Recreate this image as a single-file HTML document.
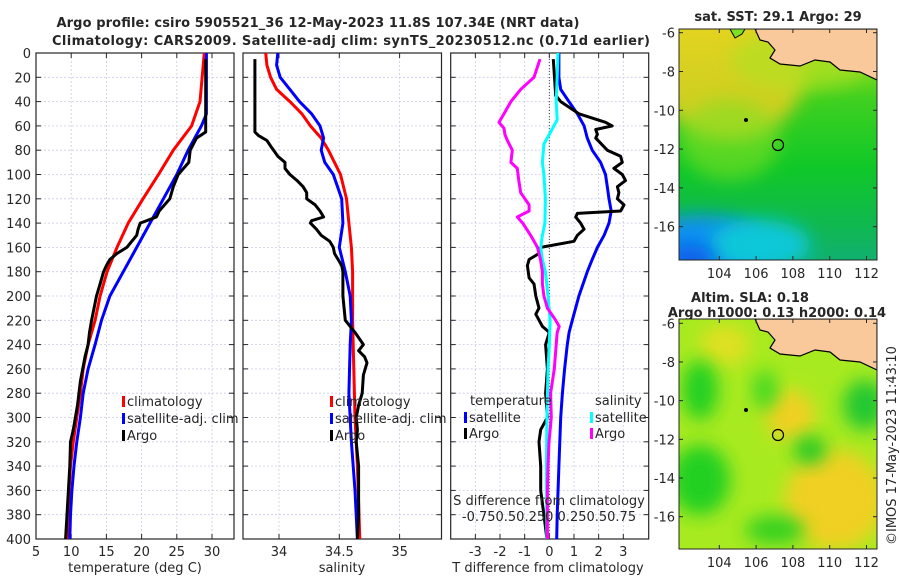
<!DOCTYPE html>
<html><head><meta charset="utf-8"><style>
body{margin:0;background:#fff;}
svg text{font-family:"DejaVu Sans","Liberation Sans",sans-serif;fill:#262626;}
</style></head><body>
<svg id="fig" width="900" height="580" xmlns="http://www.w3.org/2000/svg">
<defs>
<radialGradient id="sstY" cx="0.3" cy="0.15" r="0.6"><stop offset="0" stop-color="#f0d020"/><stop offset="0.5" stop-color="#b8e820"/><stop offset="1" stop-color="#6ee010" stop-opacity="0"/></radialGradient>
<linearGradient id="sstBg" x1="0" y1="0" x2="0" y2="1"><stop offset="0" stop-color="#c8e818"/><stop offset="0.3" stop-color="#40d020"/><stop offset="0.6" stop-color="#10c828"/><stop offset="0.85" stop-color="#10b850"/><stop offset="1" stop-color="#10b070"/></linearGradient>
<radialGradient id="sstB" cx="0.1" cy="1" r="0.5"><stop offset="0" stop-color="#1060f0"/><stop offset="0.5" stop-color="#10b0e0"/><stop offset="1" stop-color="#10c8c0" stop-opacity="0"/></radialGradient>
<filter id="bl" x="-50%" y="-50%" width="200%" height="200%"><feGaussianBlur stdDeviation="9"/></filter>
<clipPath id="c1"><rect x="679" y="29" width="198" height="231"/></clipPath>
<clipPath id="c2"><rect x="679" y="319" width="198" height="230"/></clipPath>
</defs>
<g id="titles">
<text x="318" y="27" text-anchor="middle" font-weight="bold" font-size="13" textLength="523">Argo profile: csiro 5905521_36 12-May-2023 11.8S 107.34E (NRT data)</text>
<text x="351" y="45" text-anchor="middle" font-weight="bold" font-size="13" textLength="598">Climatology: CARS2009. Satellite-adj clim: synTS_20230512.nc (0.71d earlier)</text>
</g>
<g id="p1"></g>
<g id="p2"></g>
<g id="p3"></g>

<g>
<text x="778" y="21" text-anchor="middle" font-weight="bold" font-size="13">sat. SST: 29.1 Argo: 29</text>
<g clip-path="url(#c1)">
<rect x="679" y="29" width="198" height="231" fill="url(#sstBg)"/>
<ellipse cx="730" cy="70" rx="75" ry="70" fill="#e8d020" filter="url(#bl)" opacity="0.85"/>
<ellipse cx="800" cy="60" rx="70" ry="30" fill="#b0e020" filter="url(#bl)" opacity="0.7"/>
<ellipse cx="730" cy="140" rx="50" ry="40" fill="#80e020" filter="url(#bl)" opacity="0.6"/>
<ellipse cx="700" cy="250" rx="70" ry="35" fill="#1090f0" filter="url(#bl)"/>
<ellipse cx="760" cy="245" rx="50" ry="25" fill="#10c8d8" filter="url(#bl)"/>
<ellipse cx="690" cy="258" rx="25" ry="12" fill="#0a5ce8" filter="url(#bl)"/>
<path d="M755 29 L760 40 L768 42 L775 50 L770 58 L780 64 L800 66 L815 60 L830 62 L840 70 L860 72 L877 80 L877 29 Z" fill="#f9c89b" stroke="#000" stroke-width="1.2"/>
<path d="M730 29 L735 38 L742 34 L745 29" fill="#7de020" stroke="#000" stroke-width="1"/>
<circle cx="778" cy="145" r="5.5" fill="none" stroke="#000" stroke-width="1.2"/>
<circle cx="746" cy="120" r="2" fill="#000"/>
</g>
<rect x="679" y="29" width="198" height="231" fill="none" stroke="#262626" stroke-width="1"/>
</g>

<g>
<text x="750" y="302" text-anchor="middle" font-weight="bold" font-size="13">Altim. SLA: 0.18</text>
<text x="777" y="317" text-anchor="middle" font-weight="bold" font-size="13">Argo h1000: 0.13 h2000: 0.14</text>
<g clip-path="url(#c2)">
<rect x="679" y="319" width="198" height="230" fill="#a8ea20"/>
<ellipse cx="835" cy="500" rx="50" ry="50" fill="#f0d020" filter="url(#bl)"/>
<ellipse cx="790" cy="415" rx="25" ry="25" fill="#f0d020" filter="url(#bl)"/>
<ellipse cx="725" cy="345" rx="25" ry="20" fill="#e0e020" filter="url(#bl)"/>
<ellipse cx="700" cy="390" rx="18" ry="30" fill="#20d020" filter="url(#bl)"/>
<ellipse cx="700" cy="480" rx="30" ry="35" fill="#20d020" filter="url(#bl)"/>
<ellipse cx="765" cy="390" rx="12" ry="20" fill="#40d820" filter="url(#bl)"/>
<ellipse cx="810" cy="450" rx="16" ry="14" fill="#20c828" filter="url(#bl)"/>
<ellipse cx="865" cy="405" rx="22" ry="25" fill="#20c830" filter="url(#bl)"/>
<ellipse cx="775" cy="530" rx="30" ry="14" fill="#30d020" filter="url(#bl)"/>
<path d="M755 319 L760 330 L768 332 L775 340 L770 348 L780 354 L800 356 L815 350 L830 352 L840 360 L860 362 L877 370 L877 319 Z" fill="#f9c89b" stroke="#000" stroke-width="1.2"/>
<circle cx="778" cy="435" r="5.5" fill="none" stroke="#000" stroke-width="1.2"/>
<circle cx="746" cy="410" r="2" fill="#000"/>
</g>
<rect x="679" y="319" width="198" height="230" fill="none" stroke="#262626" stroke-width="1"/>
</g>
<text transform="translate(896,545) rotate(-90)" font-size="13">©IMOS 17-May-2023 11:43:10</text>
<g id="maxes"></g>
</svg>
<script>
// ---- data ----
const depthRedT=[0,40,60,80,100,120,140,160,180,200,220,240,260,280,300,320,340,360,380,400];
const tempClim=[28.9,28.3,27.1,24.5,22.4,20.2,18.1,16.5,15.1,14.1,13.4,12.4,11.7,11.3,10.8,10.3,9.9,9.7,9.6,9.5];
const depthBlueT=[0,50,60,80,100,120,140,160,180,200,220,240,260,280,300,320,340,360,380,400];
const tempSat=[29.2,29.2,28.5,26.6,25.0,23.1,21.2,19.3,17.4,15.5,14.3,13.4,12.4,11.7,11.3,10.8,10.4,10.1,9.9,9.8];
const depthArgoT=[5,65,70,80,90,100,110,120,130,135,140,145,150,160,165,170,175,180,190,200,220,230,240,250,270,290,310,320,340,360,380,400];
const tempArgo=[29.1,29.1,27.8,26.9,26.7,25.2,24.5,24.0,22.5,22.1,19.8,19.5,19.3,17.9,16.5,15.5,15.0,14.6,14.1,13.6,12.9,12.6,12.4,11.96,11.3,10.9,10.3,9.9,9.8,9.6,9.4,9.2];

const depthRedS=[0,10,20,30,40,50,60,70,80,90,100,120,140,160,180,200,220,260,300,340,400];
const salClim=[33.89,33.90,33.93,33.98,34.09,34.19,34.26,34.35,34.41,34.46,34.51,34.56,34.58,34.60,34.61,34.61,34.61,34.62,34.63,34.65,34.67];
const depthBlueS=[0,10,20,30,40,50,60,70,80,90,100,120,140,160,180,200,220,240,280,320,360,400];
const salSat=[33.99,33.98,34.01,34.09,34.17,34.27,34.34,34.37,34.35,34.38,34.45,34.52,34.53,34.50,34.55,34.59,34.60,34.59,34.58,34.60,34.63,34.65];
const depthArgoS=[5,65,68,72,78,85,90,95,100,105,110,115,120,125,130,135,138,140,145,150,155,160,165,170,175,180,200,220,225,230,240,245,250,255,265,280,290,300,310,320,340,360,380,400];
const salArgo=[33.80,33.80,33.83,33.90,33.94,33.99,34.05,34.05,34.09,34.15,34.20,34.23,34.23,34.30,34.34,34.37,34.27,34.26,34.31,34.35,34.42,34.45,34.46,34.49,34.52,34.53,34.53,34.55,34.59,34.63,34.70,34.66,34.71,34.73,34.70,34.69,34.66,34.64,34.65,34.64,34.66,34.66,34.66,34.65];

const depthDTs=[0,20,30,38,50,60,70,80,90,100,110,120,130,140,150,160,170,180,200,220,230,240,260,280,300,340,380,400];
const dTsat=[0.39,0.39,0.46,0.73,1.14,1.41,1.54,1.74,2.08,2.28,2.35,2.42,2.51,2.42,2.22,1.95,1.74,1.54,1.20,0.93,0.80,0.73,0.62,0.53,0.46,0.39,0.32,0.30];
const depthDTa=[5,35,40,50,57,60,63,67,70,80,85,90,95,100,105,110,115,120,125,130,132,135,140,145,150,155,160,165,170,175,185,190,200,210,215,225,230,240,260,280,300,310,320,340,360,380,400];
const dTargo=[0.16,0.26,0.46,1.2,2.28,2.55,1.88,1.95,1.88,2.35,2.89,2.96,2.62,2.96,3.09,2.76,2.82,2.76,3.03,2.89,1.14,1.07,1.27,1.41,1.14,1.0,-0.35,-0.42,-0.82,-0.89,-0.82,-0.62,-0.55,-0.42,-0.55,-0.28,0.0,-0.15,-0.08,-0.15,-0.08,-0.35,-0.42,-0.35,-0.35,-0.22,-0.1];
const depthDSs=[0,30,40,55,65,75,90,100,120,140,150,160,170,180,200,220,240,260,300,340,400];
const dSsat=[0.088,0.075,0.07,0.08,0.013,-0.055,-0.07,-0.055,-0.04,-0.045,-0.07,-0.088,-0.07,-0.04,-0.013,0.008,0,-0.013,-0.025,-0.03,-0.025];
const depthDSa=[5,20,30,40,50,57,62,67,72,80,90,95,105,115,125,130,135,140,150,160,170,180,190,200,210,220,225,230,240,260,280,300,320,340,360,380,400];
const dSargo=[-0.095,-0.155,-0.29,-0.39,-0.46,-0.51,-0.46,-0.45,-0.425,-0.375,-0.39,-0.325,-0.31,-0.29,-0.205,-0.205,-0.325,-0.27,-0.19,-0.12,-0.09,-0.07,-0.07,-0.055,-0.02,0.065,0.1,0.08,0.07,0.05,0.013,0.02,-0.003,-0.013,-0.02,-0.02,-0.02];

const depthTicks=[0,20,40,60,80,100,120,140,160,180,200,220,240,260,280,300,320,340,360,380,400];
const tempTicks=[5,10,15,20,25,30];
const salTicks=[34,34.5,35];
const dTTicks=[-3,-2,-1,0,1,2,3];
const sLabel="-0.750.50.250 0.250.50.75";
const lonTicks=[104,106,108,110,112];
const latTicks=[-6,-8,-10,-12,-14,-16];

// ---- helpers ----
const NS="http://www.w3.org/2000/svg";
const Y0=53,Y1=539;
const yD=d=>Y0+(d/400)*(Y1-Y0);
function mk(tag,attrs,parent){const e=document.createElementNS(NS,tag);for(const k in attrs)e.setAttribute(k,attrs[k]);parent.appendChild(e);return e;}
function panel(g,x0,x1,vmin,vmax,xt,leftLabels){
  const sx=v=>x0+(v-vmin)/(vmax-vmin)*(x1-x0);
  xt.forEach(v=>{const l=mk('line',{x1:sx(v),x2:sx(v),y1:Y0,y2:Y1,stroke:'#c8cce8','stroke-width':0.8,'stroke-dasharray':'2,2'},g);
    });
  depthTicks.forEach(d=>{const l=mk('line',{x1:x0,x2:x1,y1:yD(d),y2:yD(d),stroke:'#c8cce8','stroke-width':0.8,'stroke-dasharray':'2,2'},g);
    
    mk('line',{x1:x0,x2:x0+5,y1:yD(d),y2:yD(d),stroke:'#262626'},g);mk('line',{x1:x1-5,x2:x1,y1:yD(d),y2:yD(d),stroke:'#262626'},g);
    if(leftLabels){const t=mk('text',{x:x0-5,y:yD(d)+5,'text-anchor':'end','font-size':13},g);t.textContent=d;
      }});
  xt.forEach(v=>{mk('line',{x1:sx(v),x2:sx(v),y1:Y1-5,y2:Y1,stroke:'#262626'},g);mk('line',{x1:sx(v),x2:sx(v),y1:Y0,y2:Y0+5,stroke:'#262626'},g);});
  const r=mk('rect',{x:x0,y:Y0,width:x1-x0,height:Y1-Y0,fill:'none',stroke:'#262626','stroke-width':1.2},g);
  
  return sx;
}
function line(g,sx,ds,vs,col,name,w){
  const d=ds.map((dd,i)=>(i?'L':'M')+sx(vs[i]).toFixed(1)+' '+yD(dd).toFixed(1)).join(' ');
  const p=mk('path',{d:d,fill:'none',stroke:col,'stroke-width':w||3,'stroke-linejoin':'round'},g);
  
}
function txt(g,x,y,s,name,anchor){const t=mk('text',{x:x,y:y,'font-size':13,'text-anchor':anchor||'start'},g);t.textContent=s;
  return t;}
function legend(g,x,y,col,label){mk('rect',{x:x,y:y-10,width:3,height:11,fill:col},g);txt(g,x+5,y,label,'legend-entry');}

// panel 1
const g1=document.getElementById('p1');
const sT=panel(g1,36,234,5,(234-36)/7.04+5,tempTicks,true);
line(g1,sT,depthRedT,tempClim,'#ff0000','temp-climatology-line');
line(g1,sT,depthBlueT,tempSat,'#0000ff','temp-satellite-line');
line(g1,sT,depthArgoT,tempArgo,'#000000','temp-argo-line');
tempTicks.forEach(v=>txt(g1,sT(v),556,v,'x-tick-label','middle'));
txt(g1,135,572,'temperature (deg C)','x-axis-title','middle');
legend(g1,122,406,'#ff0000','climatology');legend(g1,122,423,'#0000ff','satellite-adj. clim');legend(g1,122,440,'#000','Argo');

// panel 2
const g2=document.getElementById('p2');
const sS=panel(g2,243,441.5,34-(279-243)/120.6,34+(441.5-279)/120.6,salTicks,false);
line(g2,sS,depthRedS,salClim,'#ff0000','sal-climatology-line');
line(g2,sS,depthBlueS,salSat,'#0000ff','sal-satellite-line');
line(g2,sS,depthArgoS,salArgo,'#000000','sal-argo-line');
salTicks.forEach(v=>txt(g2,sS(v),556,v,'x-tick-label','middle'));
txt(g2,342,572,'salinity','x-axis-title','middle');
legend(g2,330,406,'#ff0000','climatology');legend(g2,330,423,'#0000ff','satellite-adj. clim');legend(g2,330,440,'#000','Argo');

// panel 3
const g3=document.getElementById('p3');
const sD=panel(g3,450.7,648.7,-4.0,4.03,dTTicks,false);
const zl=mk('line',{x1:sD(0),x2:sD(0),y1:Y0,y2:Y1,stroke:'#444','stroke-width':1,'stroke-dasharray':'1,2'},g3);

line(g3,sD,depthDTs,dTsat,'#0000ff','dT-satellite-line');
line(g3,sD,depthDTa,dTargo,'#000000','dT-argo-line');
line(g3,sD,depthDSs,dSsat.map(v=>v*4),'#00ffff','dS-satellite-line');
line(g3,sD,depthDSa,dSargo.map(v=>v*4),'#ff00ff','dS-argo-line');
dTTicks.forEach(v=>txt(g3,sD(v),556,v,'x-tick-label','middle'));
txt(g3,548,572,'T difference from climatology','x-axis-title','middle');
txt(g3,549,505,'S difference from climatology','s-axis-title','middle');
txt(g3,549,521,sLabel,'s-tick-labels','middle');
txt(g3,470,405,'temperature','legend-title');txt(g3,595,405,'salinity','legend-title');
legend(g3,464,422,'#0000ff','satellite');legend(g3,464,438,'#000','Argo');
legend(g3,590,422,'#00ffff','satellite');legend(g3,590,438,'#ff00ff','Argo');

// map axes
const gm=document.getElementById('maxes');
const lonX=v=>719.3+(v-104)*18.4;
function mapAxes(top,lat6,lat16,bottom){
  const ly=v=>lat6+(v+6)/(-10)*(lat16-lat6);
  lonTicks.forEach(v=>{txt(gm,lonX(v),bottom+18,v,'lon-tick-label','middle');
    mk('line',{x1:lonX(v),x2:lonX(v),y1:bottom-4,y2:bottom,stroke:'#262626'},gm);mk('line',{x1:lonX(v),x2:lonX(v),y1:top,y2:top+4,stroke:'#262626'},gm);});
  latTicks.forEach(v=>{txt(gm,675,ly(v)+5,v,'lat-tick-label','end');
    mk('line',{x1:679,x2:683,y1:ly(v),y2:ly(v),stroke:'#262626'},gm);mk('line',{x1:873,x2:877,y1:ly(v),y2:ly(v),stroke:'#262626'},gm);});
}
mapAxes(29,32.7,226.7,260);
mapAxes(319,323.3,516.7,549);
</script>
</body></html>
